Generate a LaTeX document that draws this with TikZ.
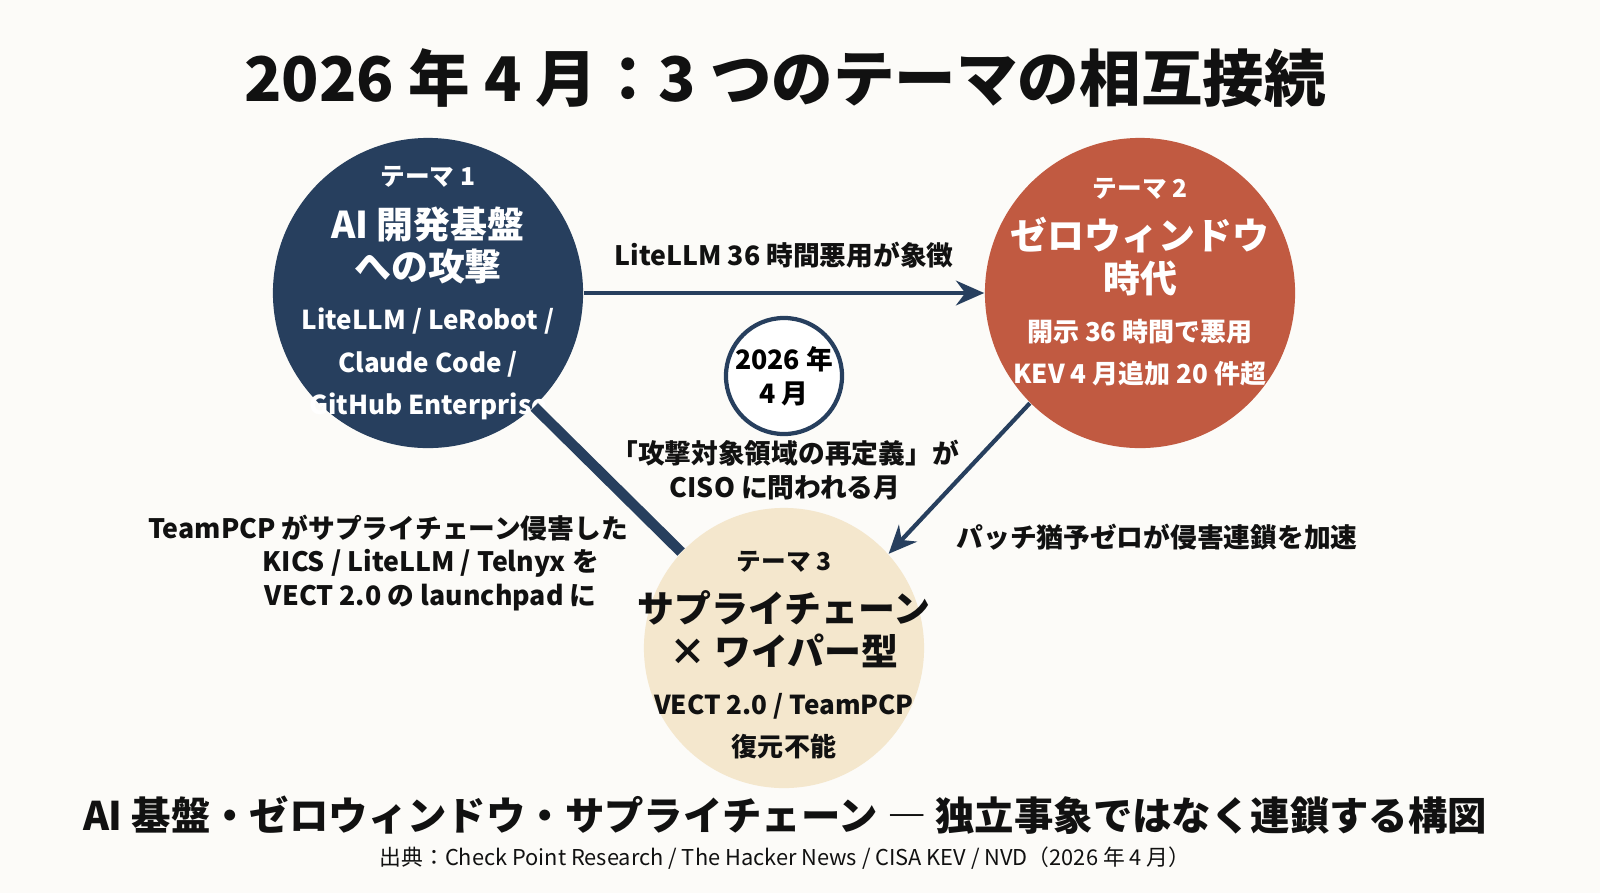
\documentclass[tikz,border=0pt]{standalone}
\usepackage{fontspec}
\setmainfont{Noto Sans CJK JP}
\usetikzlibrary{arrows.meta}
\definecolor{navy}{HTML}{273F5E}
\definecolor{rust}{HTML}{C15A41}
\definecolor{cream}{HTML}{F4E7CD}
\definecolor{bg}{HTML}{FCFBF8}
\definecolor{ink}{HTML}{111111}
\tikzset{
  theme/.style={circle,minimum size=#1,inner sep=0pt},
  lbl/.style={align=center,text=ink,font=\bfseries\fontsize{7.6}{9.6}\selectfont},
  link/.style={draw=navy,line width=1.2pt,-{Stealth[length=8pt,width=7pt]}}
}
\newcommand\ttl{\bfseries\fontsize{7}{9}\selectfont}
\newcommand\hd{\bfseries\fontsize{10.5}{12.4}\selectfont}
\newcommand\sub{\bfseries\fontsize{7.4}{9}\selectfont}

\begin{document}
\begin{tikzpicture}[x=0.01cm,y=-0.01cm]
  \fill[bg] (0,0) rectangle (1600,893);
  \useasboundingbox (0,0) rectangle (1600,893);
  \node[text=ink,font=\bfseries\fontsize{17.5}{20}\selectfont] (title) at (785,78) {2026 年 4 月：3 つのテーマの相互接続};
  % themes
  \node[theme=3.1cm,fill=navy] (t1) at (428,293) {};
  \node[theme=3.1cm,fill=rust] (t2) at (1140,293) {};
  \node[theme=2.8cm,fill=cream] (t3) at (784,648) {};
  \node[circle,draw=navy,line width=1.2pt,fill=white,minimum size=1.16cm,inner sep=0pt,align=center,
        font=\bfseries\fontsize{7.6}{9.6}\selectfont] (mid) at (784,376) {2026 年\\4 月};
  \node[align=center,text=white] (t1txt) at (428,293) {\ttl テーマ 1\\[3pt]\hd AI 開発基盤\\\hd への攻撃\\[2pt]\sub LiteLLM / LeRobot /\\\sub Claude Code /\\\sub GitHub Enterprise};
  \node[align=center,text=white] (t2txt) at (1140,282) {\ttl テーマ 2\\[3pt]\hd ゼロウィンドウ\\\hd 時代\\[2pt]\sub 開示 36 時間で悪用\\\sub KEV 4 月追加 20 件超};
  \node[align=center,text=ink] (t3txt) at (784,655) {\ttl テーマ 3\\[3pt]\hd サプライチェーン\\\hd × ワイパー型\\[2pt]\sub VECT 2.0 / TeamPCP\\\sub 復元不能};
  % links
  \draw[link] (t1.east) -- (t2.west) node[midway,above=3pt,lbl] (l12) {LiteLLM 36 時間悪用が象徴};
  \draw[link] (t2.-135) -- (t3.42);
  \draw[navy,line width=3pt] (t1.-47) -- (t3.137);
  \node[lbl] (l13) at (388,563) {TeamPCP がサプライチェーン侵害した\\\hspace*{3.2em}KICS / LiteLLM / Telnyx を\\\hspace*{3.2em}VECT 2.0 の launchpad に};
  \node[lbl] (l23) at (1157,537) {パッチ猶予ゼロが侵害連鎖を加速};
  \node[lbl] (q) at (785,470) {「攻撃対象領域の再定義」が\\CISO に問われる月};
  % footer
  \node[text=ink,font=\bfseries\fontsize{11.2}{13}\selectfont] (foot) at (785,815) {AI 基盤・ゼロウィンドウ・サプライチェーン ― 独立事象ではなく連鎖する構図};
  \node[text=ink,font=\fontsize{6.2}{7}\selectfont] (src) at (785,858) {出典：Check Point Research / The Hacker News / CISA KEV / NVD（2026 年 4 月）};
\end{tikzpicture}
\end{document}
